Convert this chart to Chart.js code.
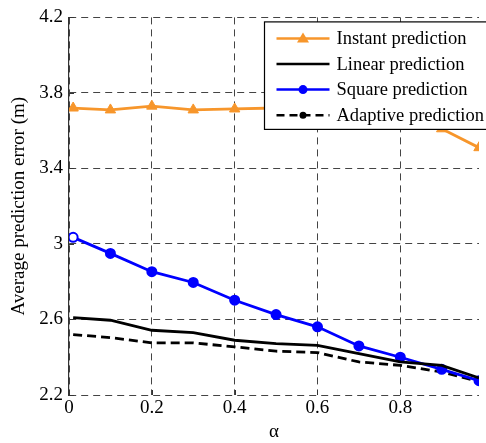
<!DOCTYPE html>
<html>
<head>
<meta charset="utf-8">
<script src="https://cdn.jsdelivr.net/npm/chart.js@4/dist/chart.umd.min.js"></script>
<style>
  html, body { margin: 0; padding: 0; background: #fff; }
</style>
</head>
<body>
<canvas id="myChart" width="486" height="443"></canvas>
<script>
const alphaValues = [0.01, 0.1, 0.2, 0.3, 0.4, 0.5, 0.6, 0.7, 0.8, 0.9, 0.99];
const instantErr = [3.72, 3.71, 3.73, 3.71, 3.715, 3.72, 3.72, 3.71, 3.67, 3.61, 3.51];
const linearErr = [2.61, 2.596, 2.543, 2.53, 2.49, 2.472, 2.463, 2.419, 2.375, 2.357, 2.29];
const squareErr = [3.035, 2.95, 2.853, 2.796, 2.702, 2.626, 2.561, 2.46, 2.40, 2.336, 2.276];
const adaptiveErr = [2.52, 2.504, 2.476, 2.476, 2.455, 2.432, 2.425, 2.375, 2.357, 2.322, 2.272];
const seriesNames = ["Instant prediction", "Linear prediction", "Square prediction", "Adaptive prediction"];
const xTicks = [0, 0.2, 0.4, 0.6, 0.8];
const yTicks = [2.2, 2.6, 3, 3.4, 3.8, 4.2];

const font = "'Liberation Serif', 'Times New Roman', serif";
const orange = "#F7962B";
const blue = "#0000FF";

function toPoints(values) {
  return values.map((v, i) => ({ x: alphaValues[i], y: v }));
}

function drawMarker(ctx, kind, x, y, color) {
  ctx.save();
  ctx.fillStyle = color;
  ctx.beginPath();
  if (kind === "triangle") {
    ctx.moveTo(x, y - 6);
    ctx.lineTo(x + 6, y + 4);
    ctx.lineTo(x - 6, y + 4);
    ctx.closePath();
  } else if (kind === "dot") {
    ctx.arc(x, y, 4.5, 0, Math.PI * 2);
  } else if (kind === "smalldot") {
    ctx.arc(x, y, 3.5, 0, Math.PI * 2);
  }
  ctx.fill();
  ctx.restore();
}

// ticks pointing into the plot, like the original figure
const innerTicks = {
  id: "innerTicks",
  afterDatasetsDraw(chart) {
    const ctx = chart.ctx;
    const area = chart.chartArea;
    ctx.save();
    ctx.strokeStyle = "#333";
    ctx.lineWidth = 1;
    chart.scales.x.ticks.forEach((t) => {
      const px = Math.round(chart.scales.x.getPixelForValue(t.value)) + 0.5;
      ctx.beginPath();
      ctx.moveTo(px, area.bottom);
      ctx.lineTo(px, area.bottom - 5);
      ctx.stroke();
    });
    chart.scales.y.ticks.forEach((t) => {
      const py = Math.round(chart.scales.y.getPixelForValue(t.value)) + 0.5;
      ctx.beginPath();
      ctx.moveTo(area.left, py);
      ctx.lineTo(area.left + 5, py);
      ctx.stroke();
    });
    ctx.restore();
  }
};

const legendBox = {
  id: "legendBox",
  afterDraw(chart) {
    const ctx = chart.ctx;
    const area = chart.chartArea;
    const x0 = area.left + 195.5;
    const y0 = area.top + 4.5;
    const rowH = 25.6;
    const styles = [
      { color: orange, dash: [], marker: "triangle" },
      { color: "#000", dash: [], marker: null },
      { color: blue, dash: [], marker: "dot" },
      { color: "#000", dash: [8, 5], marker: "smalldot" }
    ];
    ctx.save();
    ctx.fillStyle = "#fff";
    ctx.strokeStyle = "#000";
    ctx.lineWidth = 1.2;
    ctx.fillRect(x0, y0, 240, 107.5);
    ctx.strokeRect(x0, y0, 240, 107.5);
    ctx.font = "18.5px " + font;
    ctx.textBaseline = "middle";
    seriesNames.forEach((name, i) => {
      const cy = y0 + 16.5 + i * rowH;
      const st = styles[i];
      ctx.strokeStyle = st.color;
      ctx.lineWidth = 2.5;
      ctx.setLineDash(st.dash);
      ctx.beginPath();
      ctx.moveTo(x0 + 12, cy);
      ctx.lineTo(x0 + 65, cy);
      ctx.stroke();
      ctx.setLineDash([]);
      if (st.marker) drawMarker(ctx, st.marker, x0 + 38.5, cy, st.color);
      ctx.fillStyle = "#000";
      ctx.fillText(name, x0 + 72, cy + 1);
    });
    ctx.restore();
  }
};

const myChart = document.getElementById("myChart").getContext("2d");
new Chart(myChart, {
  type: "line",
  data: {
    datasets: [
      {
        label: seriesNames[0],
        data: toPoints(instantErr),
        borderColor: orange,
        backgroundColor: orange,
        borderWidth: 2.8,
        pointStyle: "triangle",
        pointRadius: 6,
        pointBorderWidth: 1,
        pointBackgroundColor: orange,
        pointBorderColor: orange
      },
      {
        label: seriesNames[1],
        data: toPoints(linearErr),
        borderColor: "#000",
        borderWidth: 2.8,
        pointRadius: 0
      },
      {
        label: seriesNames[2],
        data: toPoints(squareErr),
        borderColor: blue,
        backgroundColor: blue,
        borderWidth: 2.8,
        pointRadius: 4.5,
        pointBorderWidth: 2,
        pointBorderColor: blue,
        pointBackgroundColor: alphaValues.map((a, i) => (i === 0 ? "#fff" : blue))
      },
      {
        label: seriesNames[3],
        data: toPoints(adaptiveErr),
        borderColor: "#000",
        borderWidth: 2.8,
        borderDash: [9, 5],
        pointRadius: 0
      }
    ]
  },
  options: {
    responsive: false,
    animation: false,
    devicePixelRatio: 1,
    layout: { padding: { top: 16, right: 1, bottom: 0, left: 0 } },
    plugins: { legend: { display: false }, tooltip: { enabled: false } },
    elements: { line: { tension: 0 } },
    scales: {
      x: {
        type: "linear",
        min: 0,
        max: 0.99,
        afterBuildTicks: (scale) => { scale.ticks = xTicks.map((v) => ({ value: v })); },
        afterFit: (scale) => { scale.height = 48; },
        grid: { color: "#444", lineWidth: 1, drawTicks: false },
        border: { display: false, dash: [7, 5] },
        ticks: {
          color: "#000",
          font: { family: font, size: 19 },
          padding: 2,
          maxRotation: 0,
          callback: (v) => String(v)
        },
        title: {
          display: true,
          text: "\u03b1",
          color: "#000",
          font: { family: font, size: 19 },
          padding: { top: 0, bottom: 0 }
        }
      },
      y: {
        min: 2.2,
        max: 4.2,
        afterBuildTicks: (scale) => { scale.ticks = yTicks.map((v) => ({ value: v })); },
        afterFit: (scale) => { scale.width = 69; },
        grid: { color: "#444", lineWidth: 1, drawTicks: false },
        border: { display: true, color: "#333", width: 1.2, dash: [7, 5] },
        ticks: {
          color: "#000",
          font: { family: font, size: 19 },
          padding: 6,
          callback: (v) => String(v)
        },
        title: {
          display: true,
          text: "Average prediction error (m)",
          color: "#000",
          font: { family: font, size: 19 },
          padding: { top: 8, bottom: 0 }
        }
      }
    }
  },
  plugins: [innerTicks, legendBox]
});
</script>
</body>
</html>
